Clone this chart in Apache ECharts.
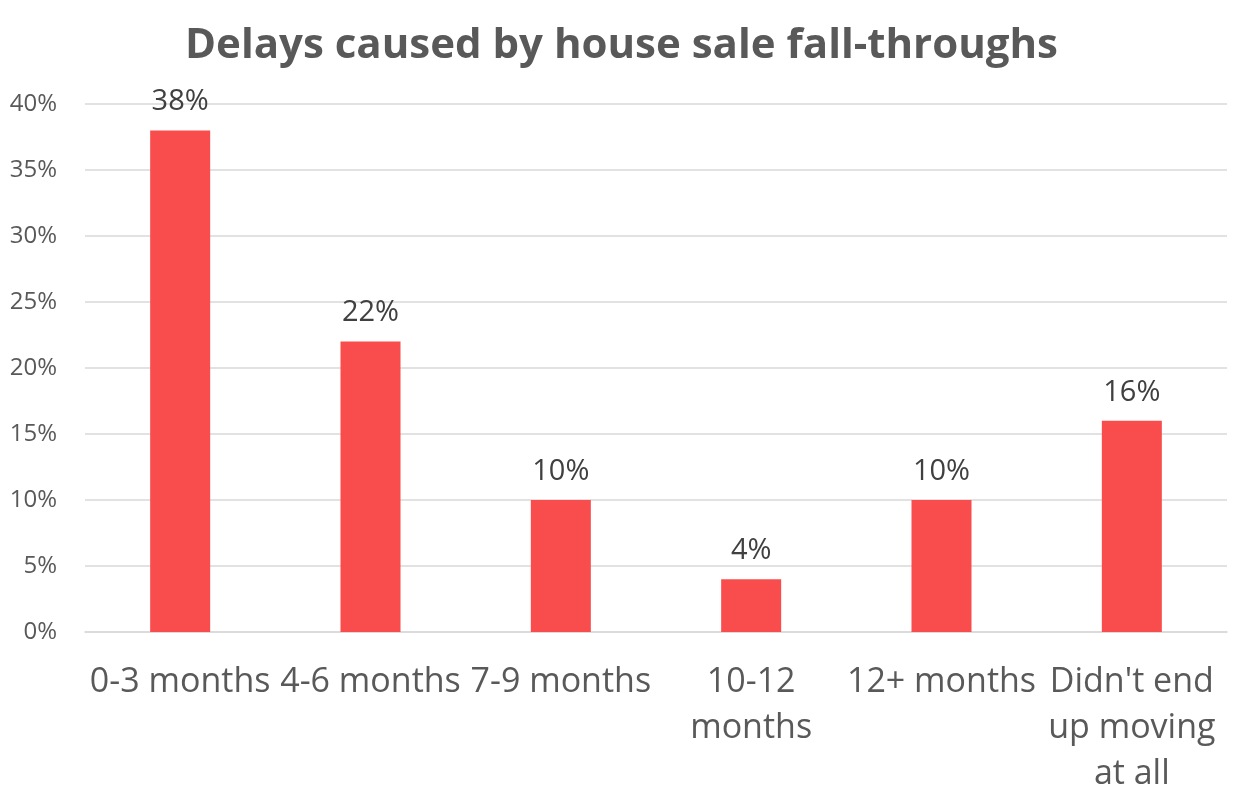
<!DOCTYPE html>
<html><head><meta charset="utf-8">
<script src="https://cdn.jsdelivr.net/npm/echarts@6/dist/echarts.min.js"></script>
<style>html,body{margin:0;padding:0;background:#fff}#c{width:1243px;height:802px}</style>
</head><body><div id="c"></div>
<script>
const categories = ['0-3 months', '4-6 months', '7-9 months', '10-12\nmonths', '12+ months', "Didn't end\nup moving\nat all"];
const values = [38, 22, 10, 4, 10, 16];
const yTicks = [0, 5, 10, 15, 20, 25, 30, 35, 40];
const title = 'Delays caused by house sale fall-throughs';

const chart = echarts.init(document.getElementById('c'));
chart.setOption({
  animation: false,
  backgroundColor: '#fff',
  textStyle: { fontFamily: 'Open Sans' },
  title: {
    text: title, left: 'center', top: 20,
    textStyle: { fontFamily: 'Open Sans', fontWeight: 'bold', fontSize: 42, color: '#595959' }
  },
  grid: { left: 85, right: 16, top: 104, bottom: 170 },
  xAxis: {
    type: 'category', data: categories,
    axisLine: { show: true, lineStyle: { color: '#d9d9d9', width: 1.5 } },
    axisTick: { show: false },
    axisLabel: { fontSize: 34, color: '#595959', lineHeight: 46, margin: 27, interval: 0, align: 'center' }
  },
  yAxis: {
    type: 'value', min: yTicks[0], max: yTicks[yTicks.length - 1], interval: 5,
    axisLine: { show: false }, axisTick: { show: false },
    splitLine: { lineStyle: { color: '#d9d9d9', width: 1.5 } },
    axisLabel: { fontSize: 24, color: '#595959', margin: 28, formatter: v => v + '%' }
  },
  series: [{
    type: 'bar', data: values, barWidth: 60,
    itemStyle: { color: '#F94C4C' },
    label: { show: true, position: 'top', distance: 14, fontSize: 29, color: '#404040', formatter: p => p.value + '%' }
  }]
});
</script></body></html>
